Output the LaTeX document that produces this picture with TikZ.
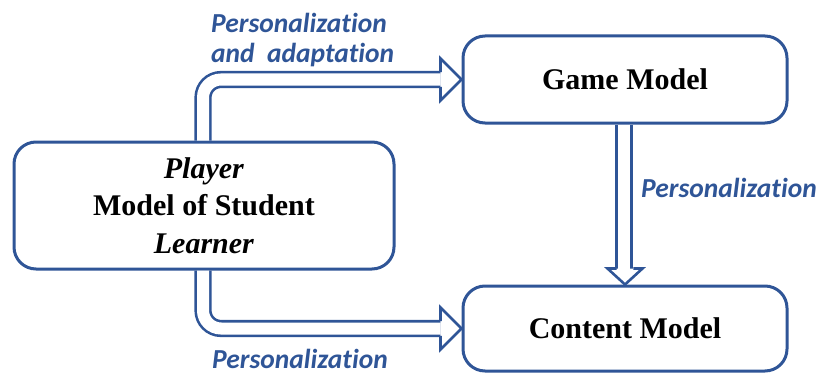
\documentclass[tikz,border=0pt]{standalone}
\usepackage{fontspec}
\setmainfont{Liberation Serif}
\newfontfamily\tagfont[Ligatures=NoCommon]{Carlito}
\usetikzlibrary{positioning,calc}
\definecolor{frameblue}{HTML}{2F5597}
\tikzset{
  model/.style={draw=frameblue, line width=3pt, rounded corners=22pt, fill=white,
    align=center, font=\fontsize{30}{37.5}\selectfont\bfseries},
  shaft/.style={draw=frameblue, line width=2.6pt, double=white, double distance=12pt,
    rounded corners=18pt},
  head/.style={draw=frameblue, fill=white, line width=2.6pt, line join=miter},
  tag/.style={text=frameblue, inner sep=0pt, align=left,
    font=\tagfont\fontsize{27.5}{30}\selectfont\bfseries\itshape}
}
\begin{document}
\begin{tikzpicture}[x=1pt, y=1pt]
  \useasboundingbox (0, 0) rectangle (821, 373);
  % boxes
  \node[model, minimum width=380pt, minimum height=127pt] (player) at (204, 167.5)
    {\textit{Player}\\Model of Student\\\textit{Learner}};
  \node[model, minimum width=324pt, minimum height=87pt] (game) at (625, 293.5) {Game Model};
  \node[model, minimum width=324pt, minimum height=85pt] (content) at (625, 44.5) {Content Model};
  % hollow arrows: shafts
  \draw[shaft] ([xshift=-1pt]player.north) |- ([xshift=-21pt]game.west);
  \draw[shaft] ([xshift=-1pt]player.south) |- ([xshift=-21pt]content.west);
  \draw[shaft] ([xshift=-1pt]game.south) -- ([xshift=-1pt, yshift=16pt]content.north);
  % hollow arrows: heads
  \filldraw[head] ($(game.west)+(-21, 7.3)$) -- ++(0, 13.7) -- (game.west)
    -- ++(-21, -21) -- ++(0, 13.7);
  \filldraw[head] ($(content.west)+(-21, 7.3)$) -- ++(0, 13.7) -- (content.west)
    -- ++(-21, -21) -- ++(0, 13.7);
  \filldraw[head] ($(content.north)+(-8.3, 16)$) -- ++(-9.2, 0) -- (content.north)
    -- ++(17.5, 16) -- ++(-9.2, 0);
  % labels
  \node[tag, anchor=north west] (adapt) at (211, 360) {Personalization\\and\ \ adaptation};
  \node[tag, anchor=base west] (persgame) at (641, 176) {Personalization};
  \node[tag, anchor=base west] (persplayer) at (212, 5) {Personalization};
\end{tikzpicture}
\end{document}
